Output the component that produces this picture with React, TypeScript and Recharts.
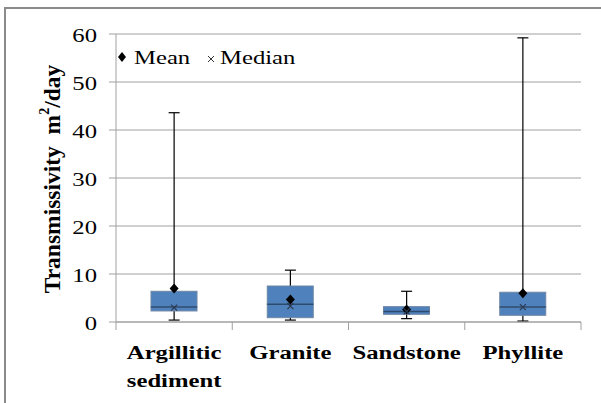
import React from 'react';
import { ComposedChart, Bar, Scatter, ErrorBar, XAxis, YAxis, CartesianGrid, Label } from 'recharts';

const categories = ['Argillitic sediment', 'Granite', 'Sandstone', 'Phyllite'];
const categoryLines = [['Argillitic', 'sediment'], ['Granite'], ['Sandstone'], ['Phyllite']];
const minimum = [0.4, 0.4, 0.7, 0.2];
const quartile1 = [2.3, 0.9, 1.6, 1.4];
const median = [3.1, 3.7, 2.2, 3.1];
const quartile3 = [6.4, 7.5, 3.2, 6.2];
const maximum = [43.6, 10.8, 6.4, 59.2];
const mean = [7.0, 4.7, 2.6, 6.0];
const medianMarker = [3.0, 3.3, 2.2, 3.1];
const yTicks = [0, 10, 20, 30, 40, 50, 60];

const SERIF = 'Liberation Serif, Times New Roman, serif';
const AXIS = '#a0a0a0';
const BOX_FILL = '#4f81bd';
const BOX_EDGE = '#6f86a3';
const MEDIAN_LINE = '#2b4a70';
const STRETCH = 1.3;

const data = categories.map((name, i) => ({
  name,
  base: quartile1[i],
  lower: median[i] - quartile1[i],
  upper: quartile3[i] - median[i],
  whiskerMid: (minimum[i] + maximum[i]) / 2,
  whiskerErr: [(maximum[i] - minimum[i]) / 2, (maximum[i] - minimum[i]) / 2],
  mean: mean[i],
  medianMark: medianMarker[i],
}));

const serifText = { fontFamily: SERIF };

const LowerBox = (props: any) => {
  const { x, y, width, height } = props;
  return <rect x={x} y={y} width={width} height={height} fill={BOX_FILL} stroke={BOX_EDGE} strokeWidth={1} />;
};

const UpperBox = (props: any) => {
  const { x, y, width, height } = props;
  return (
    <g>
      <rect x={x} y={y} width={width} height={height} fill={BOX_FILL} stroke={BOX_EDGE} strokeWidth={1} />
      <line x1={x} x2={x + width} y1={y + height} y2={y + height} stroke={MEDIAN_LINE} strokeWidth={1.5} />
    </g>
  );
};

const Diamond = (props: any) => {
  const { cx, cy } = props;
  return <polygon points={`${cx},${cy - 5} ${cx + 4.5},${cy} ${cx},${cy + 5} ${cx - 4.5},${cy}`} fill="#000" />;
};

const Cross = (props: any) => {
  const { cx, cy } = props;
  return (
    <path
      d={`M${cx - 3},${cy - 3}L${cx + 3},${cy + 3}M${cx - 3},${cy + 3}L${cx + 3},${cy - 3}`}
      stroke="#2a3a50"
      strokeWidth={1.2}
    />
  );
};

const ValueTick = (props: any) => {
  const { x, y, payload } = props;
  return (
    <text
      transform={`translate(${x},${y + 2}) scale(${STRETCH},1)`}
      textAnchor="end"
      dominantBaseline="central"
      fontSize={19}
      style={serifText}
      fill="#000"
    >
      {payload.value}
    </text>
  );
};

const CategoryTick = (props: any) => {
  const { x, y, payload } = props;
  const idx = categories.indexOf(payload.value);
  const half = payload.offset ?? 0;
  const lines = categoryLines[idx] || [payload.value];
  return (
    <g>
      <line x1={x - half} x2={x - half} y1={y} y2={y + 8} stroke={AXIS} />
      {idx === categories.length - 1 && <line x1={x + half} x2={x + half} y1={y} y2={y + 8} stroke={AXIS} />}
      <text
        transform={`translate(${x},${y + 37}) scale(${STRETCH},1)`}
        textAnchor="middle"
        fontSize={19}
        fontWeight="bold"
        style={serifText}
        fill="#000"
      >
        {lines.map((l, k) => (
          <tspan key={k} x={0} dy={k === 0 ? 0 : 28}>
            {l}
          </tspan>
        ))}
      </text>
    </g>
  );
};

const AxisTitle = (props: any) => {
  const { viewBox } = props;
  const cy = viewBox.y + viewBox.height / 2;
  return (
    <text
      transform={`translate(52,${cy + 1}) rotate(-90)`}
      textAnchor="middle"
      dominantBaseline="central"
      fontSize={23.5}
      fontWeight="bold"
      style={serifText}
      fill="#000"
    >
      Transmissivity{'\u00a0\u00a0'}m
      <tspan dy={-8} fontSize={14}>2</tspan>
      <tspan dy={8}>/day</tspan>
    </text>
  );
};

export default function App() {
  return (
    <div style={{ position: 'absolute', left: 0, top: 0, width: 601, height: 403, overflow: 'hidden', background: '#fff' }}>
      <div
        style={{
          position: 'absolute',
          left: 4,
          top: 7,
          width: 640,
          height: 440,
          border: '2px solid #8a8a8a',
        }}
      />
      <ComposedChart width={601} height={403} data={data} margin={{ top: 34, right: 20, left: 0, bottom: 0 }}>
        <CartesianGrid vertical={false} stroke={AXIS} strokeWidth={1} />
        <XAxis
          dataKey="name"
          height={81}
          axisLine={{ stroke: AXIS }}
          tickLine={false}
          tickSize={0}
          tickMargin={0}
          interval={0}
          tick={<CategoryTick />}
        />
        <YAxis
          width={116}
          domain={[0, 60]}
          ticks={yTicks}
          interval={0}
          axisLine={{ stroke: AXIS }}
          tickLine={{ stroke: AXIS }}
          tickSize={7}
          tickMargin={12}
          tick={<ValueTick />}
        >
          <Label content={<AxisTitle />} />
        </YAxis>
        <Scatter dataKey="whiskerMid" shape={() => <g />} isAnimationActive={false} zIndex={200}>
          <ErrorBar dataKey="whiskerErr" direction="y" width={5.5} stroke="#000" strokeWidth={1.2} zIndex={200} />
        </Scatter>
        <Bar dataKey="base" stackId="box" fill="transparent" barSize={46} isAnimationActive={false} />
        <Bar dataKey="lower" stackId="box" barSize={46} shape={<LowerBox />} isAnimationActive={false} />
        <Bar dataKey="upper" stackId="box" barSize={46} shape={<UpperBox />} isAnimationActive={false} />
        <Scatter dataKey="mean" shape={<Diamond />} isAnimationActive={false} />
        <Scatter dataKey="medianMark" shape={<Cross />} isAnimationActive={false} />
      </ComposedChart>
      <svg width={601} height={403} style={{ position: 'absolute', left: 0, top: 0, pointerEvents: 'none' }}>
        <polygon points="122,52 126,57 122,62 118,57" fill="#000" />
        <text transform={`translate(134,64) scale(${STRETCH},1)`} fontSize={19} style={serifText} fill="#000">
          Mean
        </text>
        <path d="M208,56L214,62M208,62L214,56" stroke="#333" strokeWidth={1} />
        <text transform={`translate(220,64) scale(${STRETCH},1)`} fontSize={19} style={serifText} fill="#000">
          Median
        </text>
      </svg>
    </div>
  );
}
